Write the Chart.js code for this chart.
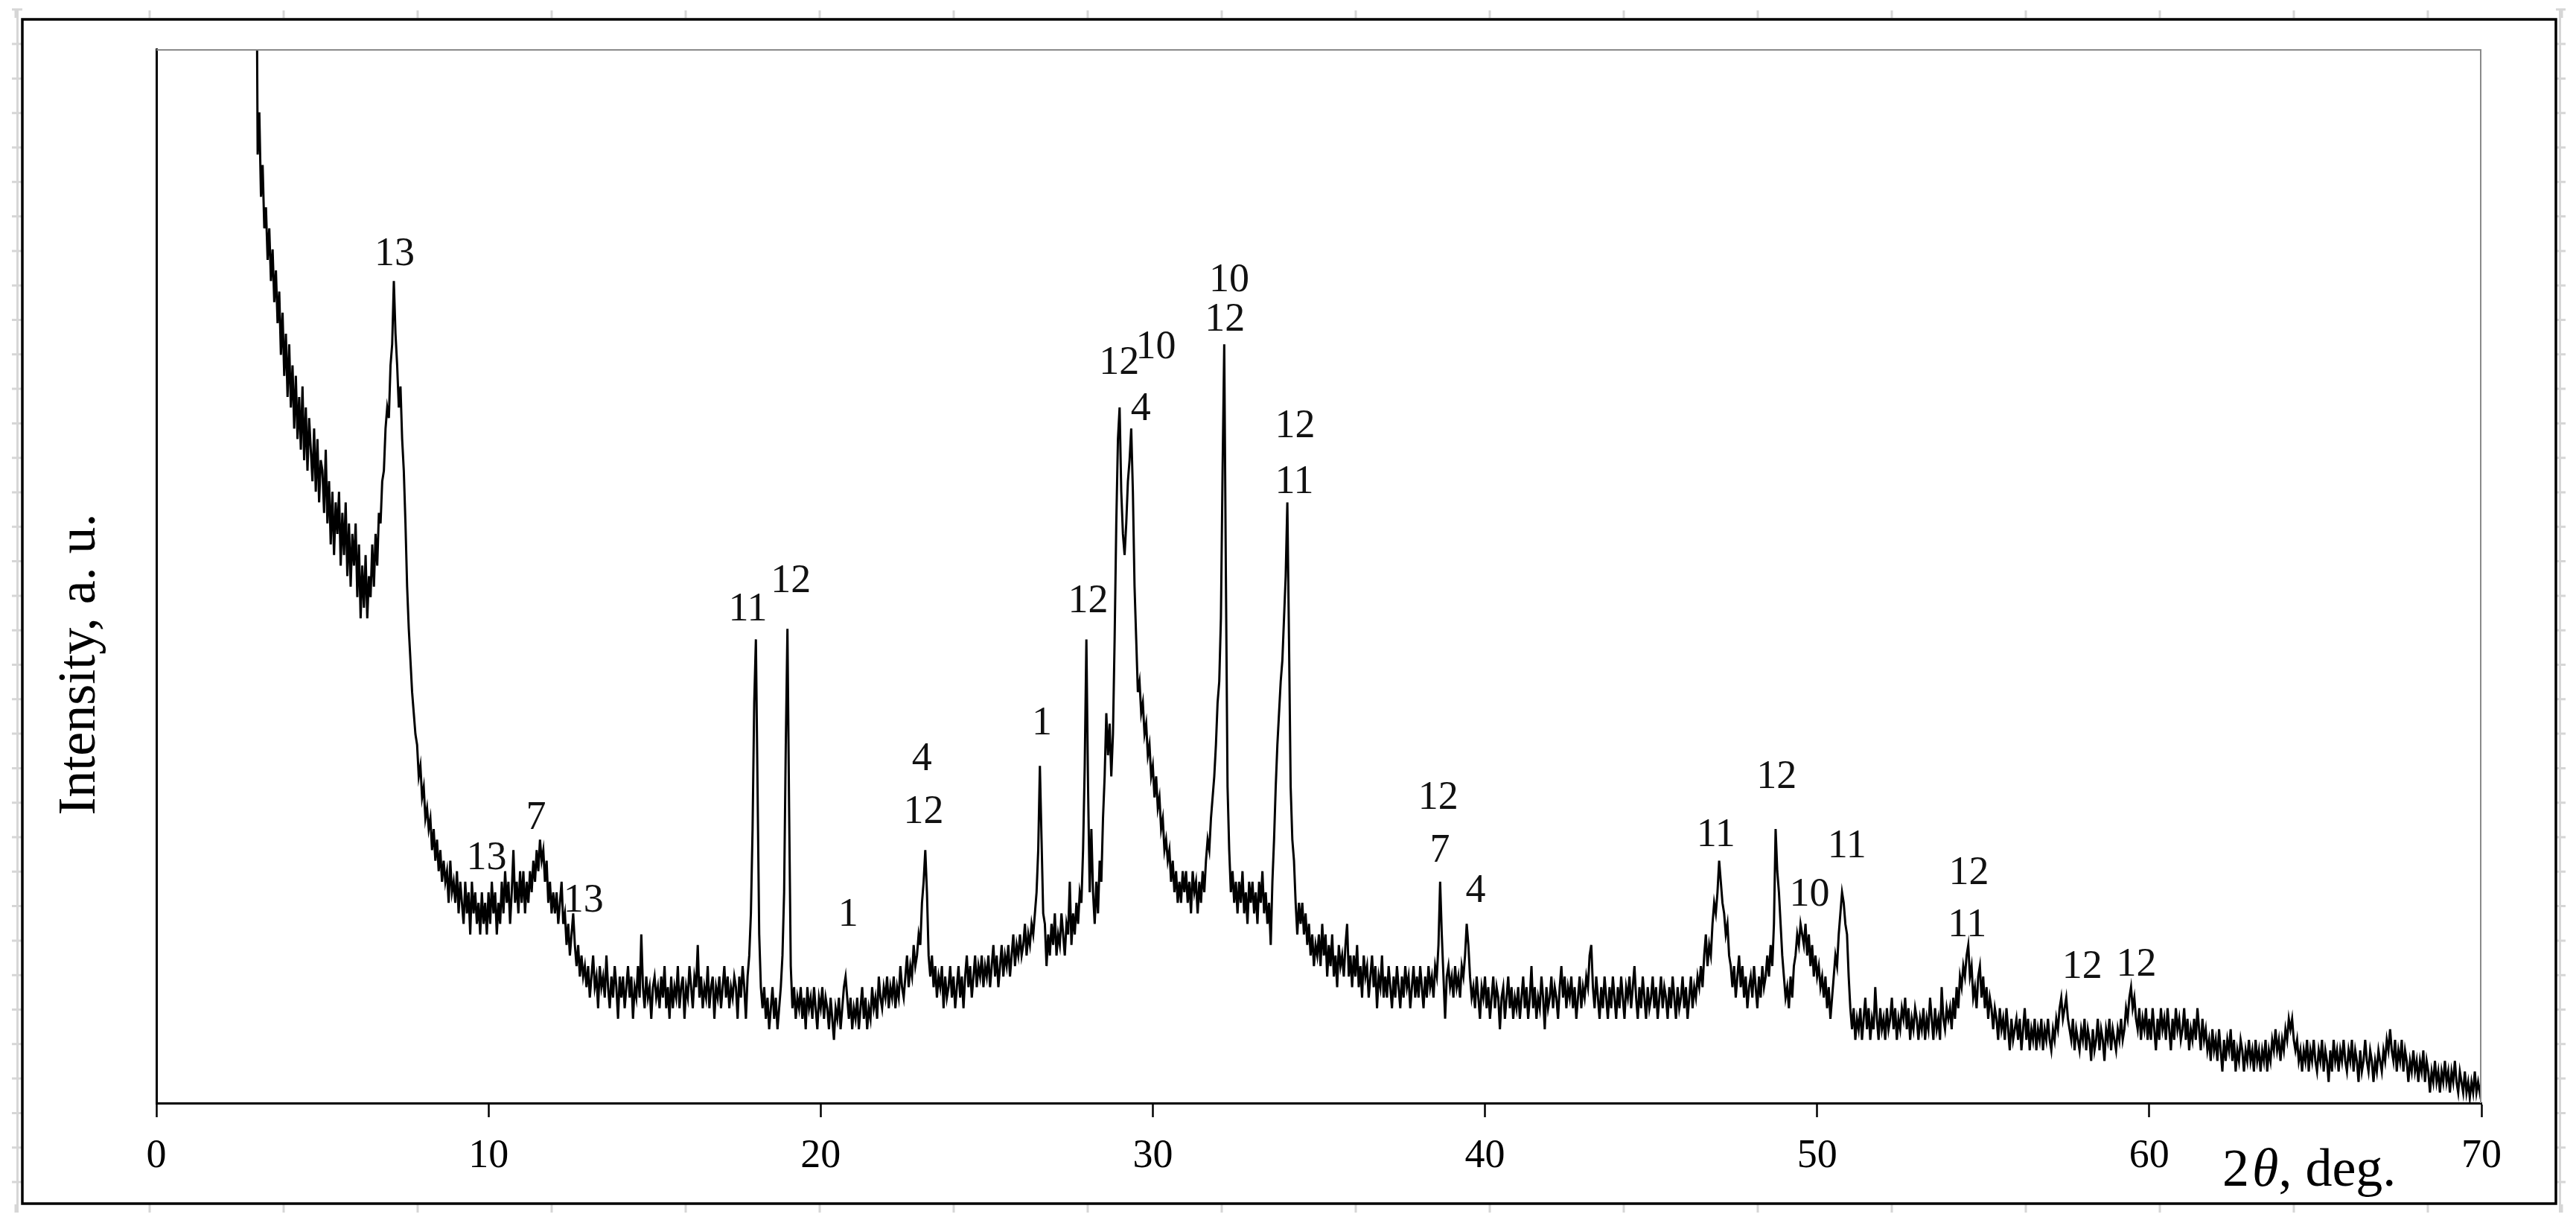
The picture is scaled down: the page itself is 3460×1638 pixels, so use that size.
<!DOCTYPE html>
<html>
<head>
<meta charset="utf-8">
<title>XRD pattern</title>
<script src="https://cdn.jsdelivr.net/npm/chart.js@4.4.1/dist/chart.umd.min.js"></script>
<style>
  html, body { margin: 0; padding: 0; background: #fff; }
  #wrap { width: 3460px; height: 1638px; position: relative; }
</style>
</head>
<body>
<div id="wrap"><canvas id="xrd" width="3460" height="1638"></canvas></div>
<script>
// scan: one row per degree, 0.05 deg step, intensity in a.u. (0..100 = plot height)
const scanStart = 3;
const scanStep = 0.05;
const scanRows = [
  [120, 90, 94, 86, 89, 83, 85, 80, 83, 78, 81, 76, 79, 74, 77, 71, 75, 69, 73, 67], // 3
  [72, 66, 70, 64, 69, 63, 67, 62, 68, 61, 66, 60, 65, 62, 59, 64, 58, 63, 57, 61],  // 4
  [60, 56, 62, 55, 59, 53, 58, 52, 57, 54, 58, 51, 56, 52, 57, 50, 55, 49, 54, 51],  // 5
  [55, 48, 53, 46, 51, 47, 52, 46, 50, 48, 53, 49, 54, 51, 56, 55, 59, 60, 64, 66],  // 6
  [65, 70, 72, 78, 73, 70, 66, 68, 63, 60, 55, 49, 45, 42, 39, 37, 35, 34, 31, 32],  // 7
  [29, 30, 27, 28, 26, 27, 24, 26, 23, 25, 22, 24, 21, 23, 21, 22, 19, 23, 20, 21],  // 8
  [19, 22, 18, 21, 19, 17, 21, 18, 20, 16, 21, 18, 20, 17, 19, 16, 20, 17, 19, 16],  // 9
  [20, 17, 21, 18, 20, 16, 19, 17, 21, 18, 22, 19, 21, 17, 20, 24, 19, 21, 18, 22],  // 10
  [19, 22, 18, 21, 19, 22, 20, 23, 21, 24, 22, 25, 23, 24, 21, 23, 19, 21, 18, 20],  // 11
  [18, 20, 17, 19, 21, 17, 18, 15, 17, 14, 16, 18, 15, 13, 15, 12, 14, 12, 13, 11],  // 12
  [13, 10, 12, 14, 11, 12, 9, 13, 11, 12, 10, 14, 11, 9, 12, 10, 13, 11, 8, 12],     // 13
  [10, 12, 9, 11, 13, 10, 12, 8, 11, 10, 13, 10, 16, 11, 9, 12, 10, 11, 8, 11],      // 14
  [12, 10, 11, 9, 12, 10, 13, 9, 11, 8, 12, 9, 11, 10, 13, 9, 11, 12, 8, 11],        // 15
  [10, 13, 11, 9, 12, 11, 15, 10, 12, 9, 11, 10, 13, 9, 11, 12, 8, 11, 10, 12],      // 16
  [9, 11, 13, 10, 12, 9, 11, 10, 12, 11, 8, 12, 10, 13, 11, 8, 12, 14, 18, 26],      // 17
  [38, 44, 30, 16, 11, 9, 11, 8, 10, 7, 9, 11, 8, 10, 7, 9, 11, 14, 20, 34],         // 18
  [45, 28, 13, 9, 11, 8, 10, 9, 11, 8, 10, 7, 11, 9, 10, 8, 11, 9, 7, 10],           // 19
  [9, 11, 8, 10, 9, 7, 10, 8, 6, 9, 8, 10, 7, 9, 11, 12, 10, 8, 10, 7],              // 20
  [9, 8, 10, 7, 9, 11, 8, 10, 7, 9, 8, 11, 9, 10, 8, 12, 10, 9, 11, 10],             // 21
  [12, 9, 11, 10, 12, 9, 11, 10, 13, 11, 10, 12, 14, 11, 13, 12, 15, 13, 14, 16],    // 22
  [15, 19, 21, 24, 20, 14, 12, 14, 11, 13, 10, 12, 11, 13, 9, 12, 10, 11, 13, 10],   // 23
  [12, 9, 11, 13, 10, 12, 9, 12, 14, 11, 13, 10, 12, 14, 11, 13, 12, 14, 11, 13],    // 24
  [12, 14, 11, 13, 15, 12, 14, 11, 13, 15, 12, 14, 13, 15, 12, 14, 16, 13, 15, 14],  // 25
  [16, 14, 15, 17, 14, 16, 15, 17, 16, 18, 20, 24, 32, 25, 18, 17, 13, 16, 14, 17],  // 26
  [15, 18, 14, 16, 15, 18, 16, 14, 17, 16, 21, 15, 18, 16, 19, 17, 20, 19, 24, 32],  // 27
  [44, 30, 20, 26, 20, 17, 21, 18, 23, 21, 27, 31, 37, 33, 36, 31, 35, 44, 55, 63],  // 28
  [66, 58, 54, 52, 55, 59, 61, 64, 58, 49, 44, 39, 40, 37, 38, 35, 36, 33, 34, 31],  // 29
  [32, 29, 31, 28, 29, 26, 27, 24, 25, 23, 24, 21, 23, 20, 22, 19, 21, 19, 22, 20],  // 30
  [22, 19, 21, 18, 22, 20, 21, 18, 21, 19, 22, 20, 23, 25, 24, 27, 29, 31, 34, 38],  // 31
  [40, 46, 60, 72, 50, 30, 24, 20, 22, 19, 21, 18, 21, 19, 22, 18, 20, 17, 21, 19],  // 32
  [21, 18, 20, 17, 21, 19, 22, 18, 20, 17, 19, 15, 21, 25, 30, 34, 37, 40, 42, 46],  // 33
  [50, 57, 44, 30, 25, 23, 19, 16, 19, 17, 19, 16, 18, 15, 17, 14, 16, 13, 15, 14],  // 34
  [16, 13, 17, 14, 16, 12, 15, 13, 16, 12, 14, 11, 15, 13, 14, 12, 15, 17, 12, 14],  // 35
  [11, 14, 12, 15, 11, 13, 10, 14, 12, 13, 10, 12, 14, 11, 13, 9, 12, 11, 14, 10],   // 36
  [12, 10, 13, 11, 9, 12, 10, 13, 11, 9, 12, 10, 13, 11, 12, 9, 11, 13, 10, 12],     // 37
  [10, 13, 11, 9, 12, 10, 13, 11, 12, 10, 13, 12, 15, 21, 16, 12, 8, 12, 13, 11],    // 38
  [12, 10, 13, 11, 12, 10, 13, 12, 14, 17, 15, 12, 10, 11, 9, 12, 10, 8, 11, 10],    // 39
  [12, 9, 11, 8, 10, 12, 9, 11, 10, 7, 10, 11, 8, 10, 12, 9, 11, 8, 10, 9],          // 40
  [11, 8, 10, 12, 9, 11, 8, 10, 13, 9, 11, 8, 10, 9, 12, 10, 7, 11, 9, 10],          // 41
  [12, 9, 11, 10, 8, 11, 13, 10, 12, 9, 11, 10, 12, 9, 11, 8, 10, 12, 9, 11],        // 42
  [10, 12, 11, 14, 15, 11, 9, 12, 10, 8, 11, 9, 12, 10, 8, 11, 9, 12, 10, 8],        // 43
  [11, 9, 12, 10, 8, 11, 10, 12, 9, 11, 13, 10, 8, 11, 9, 12, 10, 8, 11, 9],         // 44
  [10, 12, 9, 11, 8, 10, 12, 9, 11, 10, 8, 11, 9, 12, 10, 8, 11, 9, 10, 12],         // 45
  [9, 11, 8, 10, 12, 9, 11, 10, 12, 11, 13, 11, 14, 16, 13, 15, 14, 17, 19, 18],     // 46
  [20, 23, 21, 19, 18, 16, 17, 14, 13, 11, 13, 10, 12, 14, 11, 13, 10, 12, 9, 11],   // 47
  [12, 10, 13, 11, 9, 12, 10, 13, 11, 12, 14, 12, 15, 13, 17, 26, 22, 20, 17, 14],   // 48
  [12, 10, 11, 9, 12, 10, 13, 14, 16, 15, 17, 16, 15, 17, 14, 16, 13, 15, 12, 14],   // 49
  [12, 13, 11, 12, 10, 12, 9, 11, 8, 10, 12, 14, 13, 16, 18, 20, 19, 17, 16, 12],    // 50
  [9, 7, 9, 6, 8, 7, 9, 6, 8, 10, 7, 9, 6, 8, 7, 11, 8, 6, 9, 7],                    // 51
  [8, 6, 9, 7, 8, 10, 7, 9, 6, 8, 7, 9, 8, 10, 7, 9, 6, 8, 7, 9],                    // 52
  [8, 6, 8, 7, 9, 6, 8, 7, 10, 8, 6, 9, 7, 8, 6, 11, 8, 7, 9, 8],                    // 53
  [9, 7, 10, 8, 11, 9, 12, 11, 13, 12, 14, 15, 12, 13, 10, 11, 9, 12, 13, 10],       // 54
  [12, 9, 11, 8, 10, 9, 7, 9, 8, 6, 9, 7, 8, 6, 9, 7, 5, 8, 6, 7],                   // 55
  [8, 6, 8, 5, 7, 9, 6, 8, 5, 7, 6, 8, 5, 7, 6, 8, 5, 7, 6, 8],                      // 56
  [6, 5, 7, 6, 8, 7, 9, 10, 8, 9, 10, 8, 7, 6, 8, 5, 7, 6, 5, 7],                    // 57
  [6, 8, 5, 7, 6, 4, 7, 5, 6, 8, 5, 7, 6, 4, 7, 6, 8, 5, 7, 6],                      // 58
  [5, 7, 6, 8, 6, 7, 9, 8, 10, 11, 9, 10, 8, 7, 9, 6, 8, 7, 9, 6],                   // 59
  [8, 6, 9, 7, 5, 8, 6, 9, 7, 8, 6, 9, 7, 5, 8, 6, 9, 7, 8, 6],                      // 60
  [7, 9, 6, 8, 5, 7, 6, 8, 6, 9, 7, 5, 8, 6, 7, 5, 6, 4, 7, 5],                      // 61
  [6, 4, 7, 5, 3, 6, 4, 6, 5, 7, 4, 6, 3, 5, 4, 6, 5, 3, 5, 4],                      // 62
  [6, 4, 5, 3, 6, 4, 5, 3, 5, 4, 6, 3, 5, 4, 6, 5, 7, 5, 6, 4],                      // 63
  [6, 5, 7, 6, 8, 7, 8, 6, 5, 6, 4, 5, 3, 5, 4, 6, 3, 5, 4, 6],                      // 64
  [4, 3, 5, 4, 6, 3, 5, 4, 2, 5, 3, 6, 4, 5, 3, 5, 4, 6, 4, 3],                      // 65
  [5, 4, 6, 3, 5, 4, 2, 5, 3, 4, 6, 4, 3, 5, 4, 2, 4, 3, 5, 4],                      // 66
  [3, 5, 4, 6, 5, 7, 5, 4, 6, 3, 5, 4, 6, 3, 5, 4, 2, 4, 3, 5],                      // 67
  [3, 4, 2, 4, 3, 5, 2, 4, 3, 1, 3, 2, 4, 2, 3, 1, 3, 2, 4, 2],                      // 68
  [3, 1, 3, 2, 4, 2, 1, 3, 2, 1, 3, 1, 2, 0.5, 2, 1, 3, 1, 2, 1],                    // 69
  [2]                                                                                // 70
];

// phase labels above the peaks
const peakText  = ["13", "13", "7", "13", "11", "12", "1", "4", "12", "1", "12", "12", "4", "10", "12", "10", "12", "11",
                   "12", "7", "4", "11", "12", "10", "11", "12", "11", "12", "12"];
const peakAngle = [7.17, 9.94, 11.43, 12.86, 17.81, 19.1, 20.83, 23.05, 23.1, 26.66, 28.05, 28.99, 29.64, 30.09, 32.17, 32.3, 34.28, 34.26,
                   38.59, 38.64, 39.72, 46.95, 48.78, 49.77, 50.9, 54.57, 54.52, 57.98, 59.61];
const peakLevel = [80.5, 23.2, 27.0, 19.2, 46.8, 49.5, 17.8, 32.6, 27.6, 36.0, 47.6, 70.2, 65.8, 71.7, 74.3, 78.0, 64.2, 58.9,
                   28.9, 23.9, 20.1, 25.4, 30.9, 19.7, 24.3, 21.8, 16.8, 12.9, 13.1];

const xTickStep = 10;
const xMin = 0, xMax = 70;

const serif = '"Liberation Serif", "Times New Roman", serif';

// build points from the rows
const scanPoints = [];
scanRows.forEach((row, r) => {
  row.forEach((v, j) => {
    scanPoints.push({ x: +(scanStart + r + j * scanStep).toFixed(2), y: v });
  });
});

// page decorations: outer frame, ruler marks, plot box, axis titles, peak labels
const decorPlugin = {
  id: "decor",
  beforeDraw(chart) {
    const ctx = chart.ctx;
    ctx.save();
    ctx.fillStyle = "#fff";
    ctx.fillRect(0, 0, chart.width, chart.height);

    // faint ruler marks around the page
    ctx.strokeStyle = "#d6d6d6";
    ctx.lineWidth = 3;
    ctx.beginPath();
    ctx.moveTo(23.5, 14); ctx.lineTo(23.5, 1628);
    ctx.moveTo(3438.5, 14); ctx.lineTo(3438.5, 1628);
    for (let y = 12.8; y < 1630; y += 46.3) {
      ctx.moveTo(16, y); ctx.lineTo(30, y);
      ctx.moveTo(3433, y); ctx.lineTo(3446, y);
    }
    for (let x = 21; x < 3450; x += 180) {
      ctx.moveTo(x, 14); ctx.lineTo(x, 24);
      ctx.moveTo(x, 1617); ctx.lineTo(x, 1628);
    }
    ctx.stroke();
    ctx.restore();
  },
  afterDraw(chart) {
    const ctx = chart.ctx;
    const area = chart.chartArea;
    const xs = chart.scales.x;
    const ys = chart.scales.y;
    ctx.save();

    // grey top and right edges of the plot box
    ctx.strokeStyle = "#8a8a8a";
    ctx.lineWidth = 2;
    ctx.beginPath();
    ctx.moveTo(area.left, area.top + 1);
    ctx.lineTo(area.right - 1, area.top + 1);
    ctx.lineTo(area.right - 1, area.bottom);
    ctx.stroke();

    // outer frame
    ctx.strokeStyle = "#000";
    ctx.lineWidth = 3.5;
    ctx.strokeRect(30, 26, 3403, 1590);

    // peak labels
    ctx.fillStyle = "#111";
    ctx.font = "54px " + serif;
    ctx.textAlign = "center";
    ctx.textBaseline = "middle";
    peakText.forEach((t, i) => {
      ctx.fillText(t, xs.getPixelForValue(peakAngle[i]), ys.getPixelForValue(peakLevel[i]));
    });

    // x title: 2θ, deg.
    ctx.fillStyle = "#000";
    ctx.textAlign = "left";
    ctx.textBaseline = "alphabetic";
    let tx = xs.getPixelForValue(62.2);
    const ty = 1592;
    ctx.font = "72px " + serif;
    ctx.fillText("2", tx, ty);
    tx += ctx.measureText("2").width + 4;
    ctx.font = "italic 72px " + serif;
    ctx.fillText("\u03b8", tx, ty);
    tx += ctx.measureText("\u03b8").width;
    ctx.font = "72px " + serif;
    ctx.fillText(", deg.", tx, ty);

    // y title
    ctx.translate(127, 892);
    ctx.rotate(-Math.PI / 2);
    ctx.textAlign = "center";
    ctx.fillText("Intensity, a. u.", 0, 0);

    ctx.restore();
  }
};

const chart = new Chart(document.getElementById("xrd"), {
  type: "line",
  data: {
    datasets: [
      {
        data: scanPoints,
        borderColor: "#000",
        borderWidth: 3,
        pointRadius: 0,
        tension: 0,
        fill: false,
        clip: 0,
      },
    ],
  },
  options: {
    responsive: false,
    devicePixelRatio: 1,
    animation: false,
    layout: { padding: { top: 66, right: 127, bottom: 0, left: 0 } },
    plugins: {
      legend: { display: false },
      tooltip: { enabled: false },
    },
    scales: {
      x: {
        type: "linear",
        min: xMin,
        max: xMax,
        ticks: {
          stepSize: xTickStep,
          color: "#000",
          font: { family: serif, size: 54 },
          padding: 20,
          maxRotation: 0,
        },
        grid: {
          drawOnChartArea: false,
          drawTicks: true,
          tickLength: 19,
          tickColor: "#000",
          tickWidth: 2.5,
          color: "#000",
        },
        border: { display: true, color: "#000", width: 3 },
        afterFit(scale) {
          scale.height = 157;
        },
      },
      y: {
        type: "linear",
        min: 0,
        max: 100,
        ticks: { display: false },
        grid: { display: false, drawTicks: false },
        border: { display: true, color: "#000", width: 3 },
        afterFit(scale) {
          scale.width = 210;
        },
      },
    },
  },
  plugins: [decorPlugin],
});
</script>
</body>
</html>
